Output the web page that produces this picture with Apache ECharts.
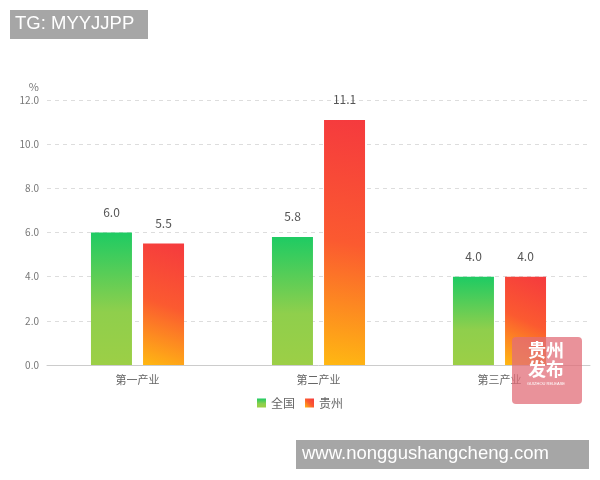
<!DOCTYPE html>
<html><head><meta charset="utf-8">
<script src="https://cdn.jsdelivr.net/npm/echarts@6/dist/echarts.min.js"></script>
<style>html,body{margin:0;padding:0;background:#fff}#c{width:600px;height:480px}</style>
</head><body><div id="c"></div>
<script>
const categories = ['第一产业', '第二产业', '第三产业'];
const nationalValues = [6.0, 5.8, 4.0];
const guizhouValues = [5.5, 11.1, 4.0];
const seriesNames = ['全国', '贵州'];
const yTicks = [0, 2, 4, 6, 8, 10, 12];

const chart = echarts.init(document.getElementById('c'));
const greenGrad = new echarts.graphic.LinearGradient(0, 0, 0, 1, [
  {offset: 0, color: '#1ecb63'}, {offset: 0.6, color: '#8fcf4c'}, {offset: 1, color: '#9ccf46'}]);
const redGrad = new echarts.graphic.LinearGradient(1, 0, 0, 1, [
  {offset: 0, color: '#f53a3e'}, {offset: 0.5, color: '#fb5a30'}, {offset: 1, color: '#ffb812'}]);
const font = '"Noto Sans CJK SC", "Noto Sans", sans-serif';
chart.setOption({
  animation: false,
  textStyle: {fontFamily: font},
  grid: {left: 47, right: 10, top: 100, bottom: 115},
  legend: {
    data: seriesNames, bottom: 66, left: 'center', itemWidth: 9, itemHeight: 9, itemGap: 10, icon: 'rect',
    textStyle: {color: '#666', fontSize: 12, fontFamily: font}
  },
  xAxis: {
    type: 'category', data: categories,
    axisLine: {lineStyle: {color: '#ccc'}}, axisTick: {show: false},
    axisLabel: {color: '#666', fontSize: 11, margin: 9}
  },
  yAxis: {
    type: 'value', min: yTicks[0], max: yTicks[yTicks.length - 1], interval: 2,
    name: '%', nameGap: 8, nameTextStyle: {color: '#777', fontSize: 11, align: 'right', padding: [0, 8, 0, 0]},
    axisLine: {show: false}, axisTick: {show: false},
    axisLabel: {color: '#777', fontSize: 10, formatter: v => v.toFixed(1), margin: 8},
    splitLine: {lineStyle: {type: [4, 4], color: '#ddd'}}
  },
  series: [
    {name: seriesNames[0], type: 'bar', data: nationalValues, barWidth: 41, barGap: '27%',
     itemStyle: {color: greenGrad},
     label: {show: true, position: 'top', distance: 14, color: '#555', fontSize: 12, formatter: p => p.value.toFixed(1)}},
    {name: seriesNames[1], type: 'bar', data: guizhouValues, barWidth: 41,
     itemStyle: {color: redGrad},
     label: {show: true, position: 'top', distance: 14, color: '#555', fontSize: 12, formatter: p => p.value.toFixed(1)}}
  ],
  graphic: [
    {type: 'rect', left: 10, top: 10, shape: {width: 138, height: 29}, style: {fill: '#a6a6a6'}, z: 100},
    {type: 'text', left: 15, top: 14, style: {text: 'TG: MYYJJPP', fill: '#fff', font: '18.5px "Liberation Sans", Arial, sans-serif'}, z: 101},
    {type: 'rect', left: 296, top: 440, shape: {width: 293, height: 29}, style: {fill: '#a6a6a6'}, z: 100},
    {type: 'text', left: 302, top: 444, style: {text: 'www.nonggushangcheng.com', fill: '#fff', font: '18.5px "Liberation Sans", Arial, sans-serif'}, z: 101},
    {type: 'rect', left: 512, top: 337, shape: {width: 70, height: 67, r: 4}, style: {fill: 'rgba(226,110,120,0.75)'}, z: 100},
    {type: 'text', left: 528, top: 341, style: {text: '贵州\n发布', fill: '#fff', font: 'bold 18px "Noto Sans CJK SC"', lineHeight: 19}, z: 101},
    {type: 'text', left: 527, top: 382, style: {text: 'GUIZHOU RELEASE', fill: '#fff', font: '4px sans-serif'}, z: 101}
  ]
});
</script></body></html>
